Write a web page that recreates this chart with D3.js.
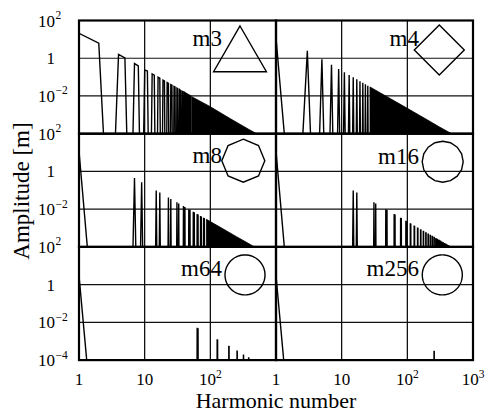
<!doctype html>
<html>
<head>
<meta charset="utf-8">
<script src="https://d3js.org/d3.v7.min.js"></script>
<style>
  body { margin: 0; background: #fff; }
  text { font-family: "Liberation Serif", "Times New Roman", serif; fill: #000; }
</style>
</head>
<body>
<svg id="chart" width="489" height="414"></svg>
<script>
// ---- data (harmonic number / amplitude in m) ----
// single spectral lines; harmonics not listed are practically zero
var m3Harm = [1, 2, 4, 5, 7, 8, 10, 11, 13, 14, 16, 17, 19, 20, 22, 23, 25, 26, 28, 29, 31, 32, 34, 35, 37, 38, 40, 41, 43, 44, 46, 47, 49, 50];
var m3Amp  = [21, 6.3, 1.6, 1.05, 0.52, 0.39, 0.24, 0.21, 0.148, 0.128, 0.098, 0.087, 0.069, 0.063, 0.052, 0.047, 0.040, 0.037, 0.032, 0.030, 0.026, 0.024, 0.022, 0.020, 0.018, 0.017, 0.016, 0.015, 0.0135, 0.0129, 0.0118, 0.0113, 0.0104, 0.0100];
// dense part of the spectrum (lines too close to separate): envelope
var m3BandHarm = [52, 100, 200, 300, 400, 507];
var m3BandAmp  = [0.0092, 0.0027, 0.00063, 0.00028, 0.000157, 0.0001];

var m4Harm = [1, 3, 5, 7, 9, 11, 13, 15, 17, 19, 21, 23, 25];
var m4Amp  = [12, 2.45, 0.88, 0.45, 0.27, 0.18, 0.13, 0.098, 0.076, 0.061, 0.050, 0.042, 0.035];
var m4BandHarm = [27, 100, 200, 300, 472];
var m4BandAmp  = [0.030, 0.0022, 0.00055, 0.00024, 0.0001];

var m8Harm = [1, 7, 9, 15, 17, 23, 25, 31, 33, 39, 41, 47, 49, 55, 57, 63, 65, 71, 73, 79, 81];
var m8Amp  = [12, 0.45, 0.27, 0.098, 0.076, 0.042, 0.035, 0.023, 0.020, 0.0145, 0.0131, 0.0100, 0.0092, 0.0073, 0.0068, 0.0055, 0.0052, 0.0044, 0.0041, 0.0035, 0.0034];
var m8BandHarm = [87, 150, 250, 350, 469];
var m8BandAmp  = [0.0029, 0.00098, 0.00035, 0.00018, 0.0001];

var m16Harm = [1, 15, 17, 31, 33, 47, 49, 63, 65, 79, 81, 95, 97, 111, 113, 127, 129, 143, 145, 159, 161, 175, 177, 191, 193, 207, 209, 223, 225, 239, 241, 255, 257, 271, 273, 287, 289, 303, 305, 319, 321, 335, 337, 351, 353, 367, 369, 383, 385, 399, 401, 415, 417, 431, 433, 447, 449, 463, 465];
var m16Amp  = [12, 0.098, 0.076, 0.0229, 0.0202, 0.0100, 0.0092, 0.0055, 0.0052, 0.0035, 0.0034, 0.0024, 0.0023, 0.00179, 0.00172, 0.00136, 0.00132, 0.00108, 0.00105, 0.00087, 0.00085, 0.00072, 0.00070, 0.00060, 0.00059, 0.00051, 0.00050, 0.00044, 0.00043, 0.00039, 0.00038, 0.00034, 0.00033, 0.00030, 0.000295, 0.00027, 0.00026, 0.00024, 0.000236, 0.00022, 0.00021, 0.000196, 0.00019, 0.000179, 0.000176, 0.000163, 0.000161, 0.00015, 0.000148, 0.000138, 0.000137, 0.000128, 0.000127, 0.000118, 0.000117, 0.00011, 0.000109, 0.000103, 0.000102];

var m64Harm = [1, 63, 65, 127, 129, 191, 193, 255, 257, 319, 321, 383, 385, 447, 449];
var m64Amp  = [3, 0.0052, 0.0049, 0.00128, 0.00125, 0.00057, 0.00056, 0.00032, 0.00031, 0.00020, 0.000195, 0.000142, 0.00014, 0.000106, 0.000105];

var m256Harm = [1, 255, 257];
var m256Amp  = [3, 0.00031, 0.0003];

var panelNames = ["m3", "m4", "m8", "m16", "m64", "m256"];
var polygonSides = [3, 4, 8, 16, 64, 256];

var xTickVals = [1, 10, 100, 1000];
var xTickLabels = [["1", ""], ["10", ""], ["10", "2"], ["10", "3"]];
var yTickVals = [100, 1, 0.01, 0.0001];
var yTickLabels = [["10", "2"], ["1", ""], ["10", "\u22122"], ["10", "\u22124"]];

var ZERO = 1e-11; // value used for the empty harmonics (far under the axis)

// ---- layout ----
var svg = d3.select("#chart");
var marginL = 79, marginT = 20.5, pw = 197, ph = 113.2;

var panels = [
  {h: m3Harm, a: m3Amp, bh: m3BandHarm, ba: m3BandAmp, sx: 161, sy: 36, r: 30.5, rot: 0, ly: 25},
  {h: m4Harm, a: m4Amp, bh: m4BandHarm, ba: m4BandAmp, sx: 163.3, sy: 29.5, r: 25, rot: 0, ly: 25},
  {h: m8Harm, a: m8Amp, bh: m8BandHarm, ba: m8BandAmp, sx: 164.3, sy: 27, r: 21.5, rot: 0, ly: 29.5},
  {h: m16Harm, a: m16Amp, bh: null, ba: null, sx: 166.7, sy: 28, r: 20.5, rot: 0, ly: 30},
  {h: m64Harm, a: m64Amp, bh: null, ba: null, sx: 166, sy: 28, r: 20, rot: 0, ly: 29},
  {h: m256Harm, a: m256Amp, bh: null, ba: null, sx: 166.3, sy: 28, r: 20, rot: 0, ly: 29}
];

panels.forEach(function(p, i) {
  var col = i % 2, row = Math.floor(i / 2);
  var x0 = marginL + col * pw, y0 = marginT + row * ph;
  var x = d3.scaleLog().domain([1, 1000]).range([x0, x0 + pw]);
  var y = d3.scaleLog().domain([1e-4, 1e2]).range([y0 + ph, y0]);

  var g = svg.append("g");
  var clipId = "clip" + i;
  g.append("clipPath").attr("id", clipId)
    .append("rect").attr("x", x0).attr("y", y0).attr("width", pw).attr("height", ph);

  // grid
  [10, 100].forEach(function(v) {
    g.append("line").attr("x1", x(v)).attr("x2", x(v)).attr("y1", y0).attr("y2", y0 + ph)
      .attr("stroke", "#000").attr("stroke-width", 1.2);
  });
  [1, 0.01].forEach(function(v) {
    g.append("line").attr("x1", x0).attr("x2", x0 + pw).attr("y1", y(v)).attr("y2", y(v))
      .attr("stroke", "#111").attr("stroke-width", 1.2);
  });

  // spectrum: every integer harmonic, missing ones set to ZERO
  var lookup = new Map(p.h.map(function(h, k) { return [h, p.a[k]]; }));
  var hMax = d3.max(p.h) + 1;
  var table = d3.range(1, hMax + 1).map(function(h) {
    return {h: h, a: lookup.has(h) ? lookup.get(h) : ZERO};
  });
  var line = d3.line().x(function(d) { return x(d.h); }).y(function(d) { return y(d.a); });
  g.append("path").datum(table)
    .attr("clip-path", "url(#" + clipId + ")")
    .attr("d", line)
    .attr("fill", "none").attr("stroke", "#000").attr("stroke-width", 1.4)
    .attr("stroke-linejoin", "miter");

  if (p.bh) {
    var band = p.bh.map(function(h, k) { return {h: h, a: p.ba[k]}; });
    var area = d3.area().x(function(d) { return x(d.h); })
      .y0(y(1e-4)).y1(function(d) { return y(d.a); });
    g.append("path").datum(band)
      .attr("clip-path", "url(#" + clipId + ")")
      .attr("d", area).attr("fill", "#000").attr("stroke", "#000").attr("stroke-width", 0.8);
  }

  // label + polygon
  g.append("text").attr("x", x0 + 143).attr("y", y0 + p.ly)
    .attr("text-anchor", "end").attr("font-size", 23).text(panelNames[i]);
  var n = polygonSides[i];
  var pts = d3.range(n).map(function(k) {
    var ang = -Math.PI / 2 + k * 2 * Math.PI / n + p.rot;
    return [x0 + p.sx + p.r * Math.cos(ang), y0 + p.sy + p.r * Math.sin(ang)];
  });
  g.append("polygon").attr("points", pts.map(function(q) { return q.join(","); }).join(" "))
    .attr("fill", "none").attr("stroke", "#000").attr("stroke-width", 1.4);

  // frame
  g.append("rect").attr("x", x0).attr("y", y0).attr("width", pw).attr("height", ph)
    .attr("fill", "none").attr("stroke", "#000").attr("stroke-width", 2.2);
});

// y tick labels
for (var row = 0; row < 3; row++) {
  var yr = d3.scaleLog().domain([1e-4, 1e2]).range([marginT + (row + 1) * ph, marginT + row * ph]);
  var nt = row === 2 ? 4 : 3;
  for (var k = 0; k < nt; k++) {
    var yy = yr(yTickVals[k]);
    svg.append("text").attr("x", 55).attr("y", yy + 6).attr("text-anchor", "end")
      .attr("font-size", 17).text(yTickLabels[k][0]);
    if (yTickLabels[k][1]) {
      svg.append("text").attr("x", 55.5).attr("y", yy - 1.5).attr("font-size", 11.5)
        .text(yTickLabels[k][1]);
    }
  }
}

// x tick labels
for (var col = 0; col < 2; col++) {
  var xc = d3.scaleLog().domain([1, 1000]).range([marginL + col * pw, marginL + (col + 1) * pw]);
  var nx = col === 0 ? 3 : 4;
  for (var k = 0; k < nx; k++) {
    var t = svg.append("text").attr("x", xc(xTickVals[k])).attr("y", 385)
      .attr("text-anchor", "middle").attr("font-size", 17);
    t.append("tspan").text(xTickLabels[k][0]);
    if (xTickLabels[k][1]) {
      t.append("tspan").attr("dy", -7).attr("font-size", 11.5).text(xTickLabels[k][1]);
    }
  }
}

svg.append("text").attr("x", marginL + pw).attr("y", 408).attr("text-anchor", "middle")
  .attr("font-size", 22).text("Harmonic number");
svg.append("text").attr("transform", "translate(29,191) rotate(-90)")
  .attr("text-anchor", "middle").attr("font-size", 23).text("Amplitude [m]");
</script>
</body>
</html>
